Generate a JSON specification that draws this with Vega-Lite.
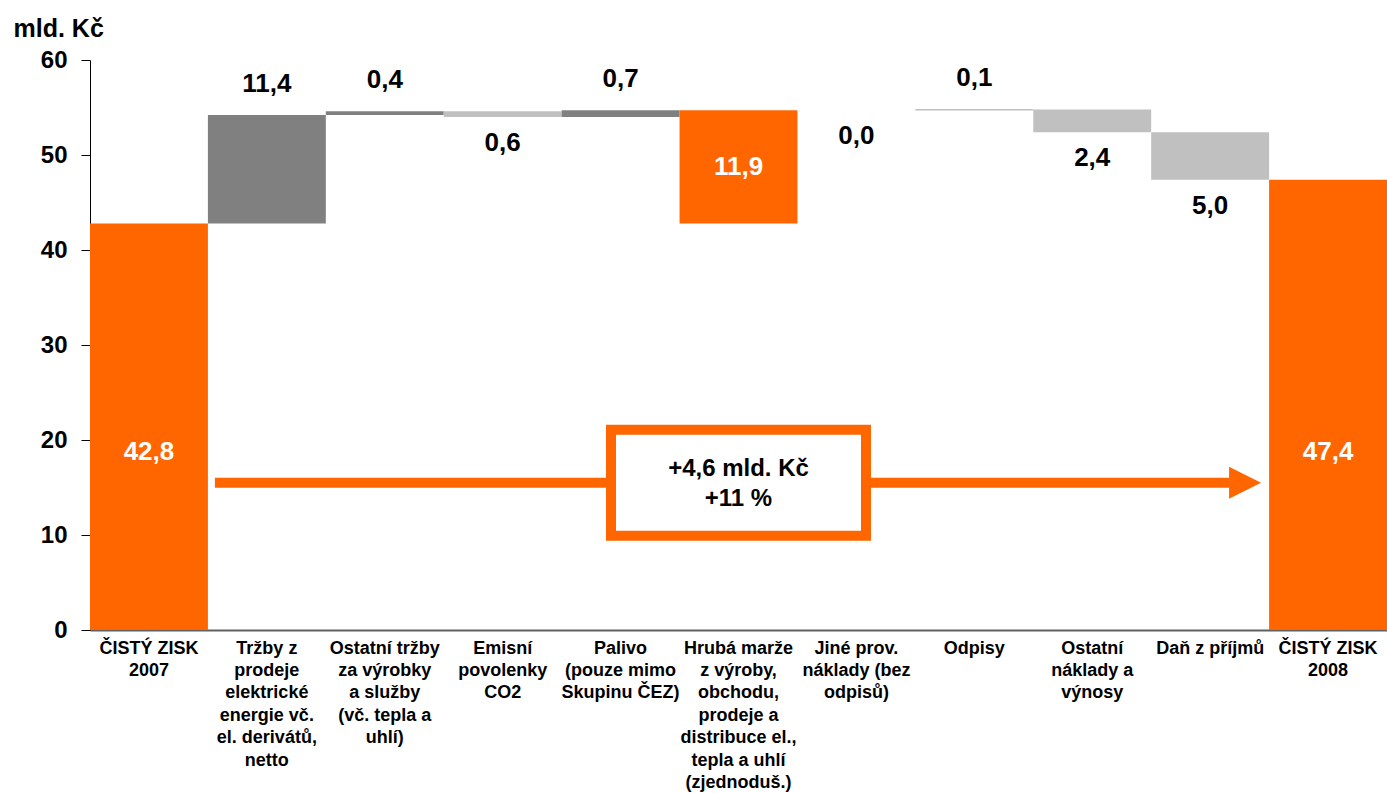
{
  "$schema": "https://vega.github.io/schema/vega-lite/v6.json",
  "width": 1297,
  "height": 570,
  "autosize": {"type": "none"},
  "padding": {"left": 90, "top": 60, "right": 0, "bottom": 163},
  "background": "white",
  "config": {
    "view": {"stroke": null},
    "font": "Liberation Sans",
    "text": {"font": "Liberation Sans", "fontWeight": "bold"}
  },
  "datasets": {
    "bridge": [
      {"cat": "ČISTÝ ZISK|2007", "start": 0, "end": 42.8, "kind": "total"},
      {"cat": "Tržby z|prodeje|elektrické|energie vč.|el. derivátů,|netto", "start": 42.8, "end": 54.2, "kind": "up"},
      {"cat": "Ostatní tržby|za výrobky|a služby|(vč. tepla a|uhlí)", "start": 54.2, "end": 54.6, "kind": "up"},
      {"cat": "Emisní|povolenky|CO2", "start": 54.6, "end": 54.0, "kind": "down"},
      {"cat": "Palivo|(pouze mimo|Skupinu ČEZ)", "start": 54.0, "end": 54.7, "kind": "up"},
      {"cat": "Hrubá marže|z výroby,|obchodu,|prodeje a|distribuce el.,|tepla a uhlí|(zjednoduš.)", "start": 42.8, "end": 54.7, "kind": "subtotal"},
      {"cat": "Jiné prov.|náklady (bez|odpisů)", "start": 54.7, "end": 54.7, "kind": "down"},
      {"cat": "Odpisy", "start": 54.7, "end": 54.8, "kind": "up"},
      {"cat": "Ostatní|náklady a|výnosy", "start": 54.8, "end": 52.4, "kind": "down"},
      {"cat": "Daň z příjmů", "start": 52.4, "end": 47.4, "kind": "down"},
      {"cat": "ČISTÝ ZISK|2008", "start": 0, "end": 47.4, "kind": "total"}
    ],
    "change": [
      {"from": "ČISTÝ ZISK|2007", "to": "ČISTÝ ZISK|2008", "change": 4.6, "pct": 11}
    ]
  },
  "data": {"name": "bridge"},
  "transform": [
    {"calculate": "replace(format(abs(datum.end - datum.start), '.1f'), '.', ',')", "as": "lbl"},
    {"calculate": "(datum.start + datum.end) / 2", "as": "mid"}
  ],
  "layer": [
    {
      "mark": {"type": "bar", "strokeWidth": 0},
      "encoding": {
        "x": {
          "field": "cat",
          "type": "nominal",
          "sort": null,
          "title": null,
          "scale": {"paddingInner": 0, "paddingOuter": 0},
          "axis": {
            "labelExpr": "split(datum.label, '|')",
            "labelAngle": 0,
            "labelFontSize": 18,
            "labelFontWeight": "bold",
            "labelColor": "black",
            "labelLineHeight": 22.4,
            "labelBaseline": "top",
            "labelPadding": 9,
            "labelLimit": 0,
            "labelOverlap": false,
            "labelBound": false,
            "ticks": false,
            "domainColor": "#606060",
            "domainWidth": 2
          }
        },
        "y": {
          "field": "start",
          "type": "quantitative",
          "title": "mld. Kč",
          "scale": {"domain": [0, 60], "nice": false},
          "axis": {
            "values": [0, 10, 20, 30, 40, 50, 60],
            "grid": false,
            "domainColor": "black",
            "tickColor": "black",
            "tickSize": 9,
            "labelFontSize": 24,
            "labelFontWeight": "bold",
            "labelColor": "black",
            "labelPadding": 14,
            "titleAngle": 0,
            "titleAlign": "left",
            "titleBaseline": "middle",
            "titleX": -77,
            "titleY": -32,
            "titleFontSize": 25,
            "titleFontWeight": "bold",
            "titleColor": "black"
          }
        },
        "y2": {"field": "end"},
        "color": {
          "field": "kind",
          "type": "nominal",
          "legend": null,
          "scale": {
            "domain": ["total", "subtotal", "up", "down"],
            "range": ["#FF6600", "#FF6600", "#808080", "#C0C0C0"]
          }
        }
      }
    },
    {
      "data": {"name": "change"},
      "mark": {"type": "rule", "color": "#FF6600", "strokeWidth": 10, "strokeCap": "butt", "xOffset": 7, "x2Offset": -40},
      "encoding": {
        "x": {"field": "from", "type": "nominal", "sort": null, "title": null, "bandPosition": 1},
        "x2": {"field": "to", "bandPosition": 0},
        "y": {"datum": 15.5, "type": "quantitative", "title": "mld. Kč"}
      }
    },
    {
      "data": {"name": "change"},
      "mark": {"type": "point", "shape": "M-1,-1L1,0L-1,1Z", "size": 1024, "filled": true, "fill": "#FF6600", "fillOpacity": 1, "opacity": 1, "strokeWidth": 0, "xOffset": -24},
      "encoding": {
        "x": {"field": "to", "type": "nominal", "sort": null, "title": null, "bandPosition": 0},
        "y": {"datum": 15.5, "type": "quantitative", "title": "mld. Kč"}
      }
    },
    {
      "data": {"name": "change"},
      "mark": {"type": "point", "shape": "M-1,-0.416L1,-0.416L1,0.416L-1,0.416Z", "size": 65025, "filled": true, "fill": "white", "fillOpacity": 1, "stroke": "#FF6600", "strokeOpacity": 1, "strokeWidth": 10, "opacity": 1},
      "encoding": {
        "x": {"datum": "Hrubá marže|z výroby,|obchodu,|prodeje a|distribuce el.,|tepla a uhlí|(zjednoduš.)", "type": "nominal"},
        "y": {"datum": 15.5, "type": "quantitative", "title": "mld. Kč"}
      }
    },
    {
      "data": {"name": "change"},
      "transform": [
        {"calculate": "['+' + replace(format(datum.change, '.1f'), '.', ',') + ' mld. Kč', '+' + datum.pct + ' %']", "as": "txt"}
      ],
      "mark": {"type": "text", "fontSize": 24, "fontWeight": "bold", "color": "black", "lineHeight": 30, "baseline": "middle", "align": "center", "dy": -14},
      "encoding": {
        "x": {"datum": "Hrubá marže|z výroby,|obchodu,|prodeje a|distribuce el.,|tepla a uhlí|(zjednoduš.)", "type": "nominal"},
        "y": {"datum": 15.5, "type": "quantitative", "title": "mld. Kč"},
        "text": {"field": "txt"}
      }
    },
    {
      "transform": [{"filter": "datum.kind == 'up'"}],
      "mark": {"type": "text", "fontSize": 26, "fontWeight": "bold", "color": "black", "baseline": "middle", "dy": -31},
      "encoding": {
        "x": {"field": "cat", "type": "nominal", "sort": null, "title": null},
        "y": {"field": "end", "type": "quantitative", "title": "mld. Kč"},
        "text": {"field": "lbl"}
      }
    },
    {
      "transform": [{"filter": "datum.kind == 'down'"}],
      "mark": {"type": "text", "fontSize": 26, "fontWeight": "bold", "color": "black", "baseline": "middle", "dy": 26},
      "encoding": {
        "x": {"field": "cat", "type": "nominal", "sort": null, "title": null},
        "y": {"field": "end", "type": "quantitative", "title": "mld. Kč"},
        "text": {"field": "lbl"}
      }
    },
    {
      "transform": [{"filter": "datum.kind == 'subtotal'"}],
      "mark": {"type": "text", "fontSize": 26, "fontWeight": "bold", "color": "white", "baseline": "middle"},
      "encoding": {
        "x": {"field": "cat", "type": "nominal", "sort": null, "title": null},
        "y": {"field": "mid", "type": "quantitative", "title": "mld. Kč"},
        "text": {"field": "lbl"}
      }
    },
    {
      "transform": [{"filter": "datum.kind == 'total'"}],
      "mark": {"type": "text", "fontSize": 26, "fontWeight": "bold", "color": "white", "baseline": "middle"},
      "encoding": {
        "x": {"field": "cat", "type": "nominal", "sort": null, "title": null},
        "y": {"datum": 18.7, "type": "quantitative", "title": "mld. Kč"},
        "text": {"field": "lbl"}
      }
    }
  ]
}
